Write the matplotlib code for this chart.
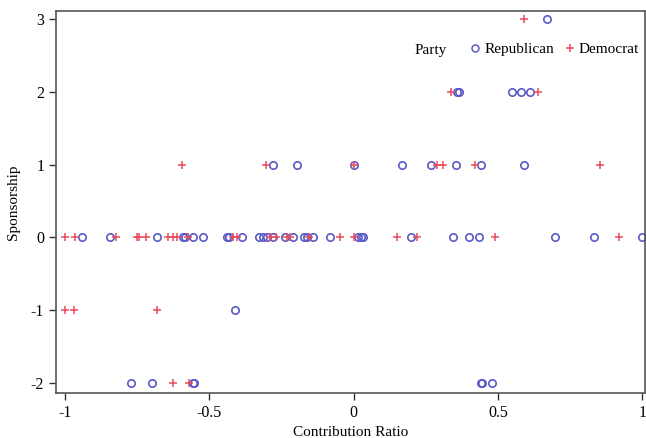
import matplotlib
matplotlib.use("Agg")
import matplotlib.pyplot as plt
from matplotlib.lines import Line2D

plt.rcParams['font.family'] = ['Liberation Serif', 'DejaVu Serif']

# Republican points, grouped by sponsorship level
rep_y3 = [0.67]
rep_y2 = [0.36, 0.365, 0.55, 0.58, 0.61]
rep_y1 = [-0.28, -0.195, 0.0, 0.167, 0.268, 0.355, 0.442, 0.59]
rep_y0 = [-0.94, -0.845, -0.68, -0.592, -0.584, -0.555, -0.52, -0.44, -0.43,
          -0.385, -0.327, -0.315, -0.30, -0.278, -0.237, -0.209, -0.171,
          -0.162, -0.139, -0.081, 0.016, 0.025, 0.034, 0.199, 0.344, 0.40,
          0.433, 0.698, 0.834, 1.0]
rep_ym1 = [-0.41]
rep_ym2 = [-0.772, -0.697, -0.557, -0.553, 0.44, 0.445, 0.48]

# Democrat points
dem_y3 = [0.59]
dem_y2 = [0.337, 0.638]
dem_y1 = [-0.596, -0.303, 0.0, 0.29, 0.311, 0.421, 0.854]
dem_y0 = [-1.0, -0.965, -0.824, -0.75, -0.742, -0.719, -0.642, -0.627, -0.613,
          -0.573, -0.417, -0.405, -0.29, -0.269, -0.23, -0.22, -0.153, -0.047,
          0.0, 0.152, 0.219, 0.49, 0.919]
dem_ym1 = [-1.0, -0.968, -0.682]
dem_ym2 = [-0.625, -0.569]

levels = [3, 2, 1, 0, -1, -2]
rep_rows = [rep_y3, rep_y2, rep_y1, rep_y0, rep_ym1, rep_ym2]
dem_rows = [dem_y3, dem_y2, dem_y1, dem_y0, dem_ym1, dem_ym2]

rep_x, rep_s = [], []
for lv, row in zip(levels, rep_rows):
    rep_x += row
    rep_s += [lv] * len(row)
dem_x, dem_s = [], []
for lv, row in zip(levels, dem_rows):
    dem_x += row
    dem_s += [lv] * len(row)

blue = '#5a5ac8'
red = '#ea4a5a'

fig = plt.figure(figsize=(6.46, 4.38), dpi=100)
ax = fig.add_axes([0.0867, 0.1027, 0.9118, 0.8722])

ax.plot(rep_x, rep_s, 'o', ls='none', mfc='none', mec=blue, mew=1.2, ms=5.3)
ax.plot(dem_x, dem_s, '+', ls='none', color=red, mew=1.1, ms=5.5)

ax.set_xlim(-1.031, 1.01)
ax.set_ylim(-2.137, 3.11)
ax.set_xticks([-1, -0.5, 0, 0.5, 1])
ax.set_xticklabels(['-1', '-0.5', '0', '0.5', '1'])
ax.set_yticks([-2, -1, 0, 1, 2, 3])
ax.set_yticklabels(['-2', '-1', '0', '1', '2', '3'])
ax.tick_params(direction='out', length=5, width=1, colors='#333333',
               labelsize=11.5, labelcolor='black')
for sp in ax.spines.values():
    sp.set_color('#555555')
    sp.set_linewidth(1.2)

ax.set_xlabel('Contribution Ratio', fontsize=11)
ax.set_ylabel('Sponsorship', fontsize=11, labelpad=8)

handles = [Line2D([], [], marker='o', ls='none', mfc='none', mec=blue, mew=1.1, ms=5),
           Line2D([], [], marker='+', ls='none', color=red, mew=1.1, ms=5.5)]
ax.legend(handles, ['Republican', 'Democrat'], ncol=2, frameon=False,
          loc='center right', bbox_to_anchor=(1.0, 0.9, 0, 0), fontsize=11,
          handlelength=0.6, handletextpad=0.3, columnspacing=0.7, borderaxespad=0)
fig.text(0.642, 0.8855, 'Party', fontsize=11, ha='left', va='center')

fig.savefig('out.png', dpi=100)
